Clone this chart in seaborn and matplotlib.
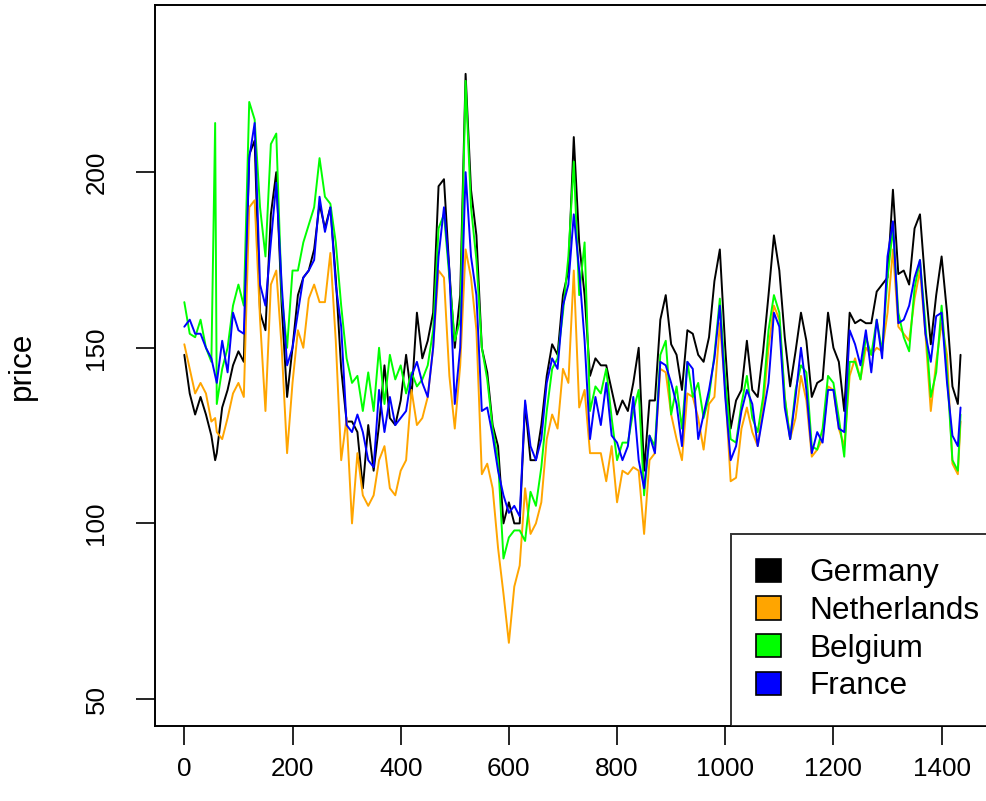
import matplotlib
matplotlib.use("Agg")
import matplotlib.pyplot as plt
from matplotlib.patches import Patch
import seaborn as sns
import pandas as pd

# ---- data ----
hours = [0, 10, 20, 30, 40, 50, 57] + list(range(60, 1440, 10)) + [1435]

germany = [148, 137, 131, 136, 131, 125, 118,
           120, 133, 138, 145, 149, 146, 205, 209, 160, 155,
           188, 200, 162, 136, 150, 165, 170, 172, 178, 191,
           184, 190, 170, 144, 129, 129, 126, 110, 128, 115,
           128, 145, 130, 128, 135, 148, 136, 160, 147, 152,
           160, 196, 198, 172, 150, 165, 228, 195, 182, 150,
           143, 128, 122, 100, 106, 100, 100, 134, 118, 118,
           128, 142, 151, 148, 165, 172, 210, 180, 165, 142,
           147, 145, 145, 138, 131, 135, 132, 140, 150, 115,
           135, 135, 158, 165, 151, 148, 138, 155, 154, 148,
           146, 153, 169, 178, 150, 127, 135, 138, 152, 138,
           136, 149, 165, 182, 172, 153, 139, 149, 160, 152,
           136, 140, 141, 160, 150, 146, 132, 160, 157, 158,
           157, 157, 166, 168, 170, 195, 171, 172, 168, 184,
           188, 168, 151, 165, 176, 160, 139, 134,
           148]

netherlands = [151, 144, 137, 140, 137, 129, 130,
               126, 124, 130, 137, 140, 136, 190, 192, 158, 132,
               168, 172, 150, 120, 140, 155, 150, 164, 168, 163,
               163, 177, 152, 118, 130, 100, 120, 108, 105, 108,
               118, 122, 110, 108, 115, 118, 138, 128, 130, 136,
               150, 172, 170, 142, 127, 145, 178, 170, 155, 114,
               117, 110, 93, 80, 66, 82, 88, 110, 97, 100,
               106, 124, 131, 127, 144, 140, 172, 133, 138, 120,
               120, 120, 112, 122, 106, 115, 114, 116, 115, 97,
               118, 120, 144, 143, 131, 124, 118, 137, 136, 130,
               121, 134, 136, 157, 138, 112, 113, 127, 133, 126,
               122, 133, 150, 162, 158, 136, 124, 130, 142, 135,
               119, 121, 124, 139, 138, 127, 122, 142, 147, 141,
               150, 148, 150, 149, 160, 178, 156, 154, 152, 164,
               172, 154, 132, 146, 157, 148, 117, 114,
               129]

belgium = [163, 154, 153, 158, 150, 146, 214,
           134, 144, 150, 162, 168, 162, 220, 215, 190, 176,
           208, 211, 165, 150, 172, 172, 180, 185, 190, 204,
           193, 191, 180, 162, 147, 140, 142, 132, 143, 132,
           150, 134, 148, 141, 145, 137, 143, 139, 141, 145,
           155, 184, 188, 170, 152, 158, 226, 190, 175, 150,
           141, 127, 118, 90, 96, 98, 98, 95, 109, 105,
           116, 132, 144, 147, 160, 176, 203, 165, 180, 132,
           139, 137, 144, 130, 118, 123, 123, 132, 138, 108,
           125, 122, 148, 152, 131, 139, 127, 146, 136, 140,
           130, 136, 148, 164, 141, 124, 123, 134, 142, 130,
           126, 136, 155, 165, 160, 136, 124, 138, 145, 143,
           122, 121, 127, 142, 140, 130, 119, 146, 146, 141,
           153, 148, 158, 149, 170, 184, 160, 153, 149, 167,
           175, 157, 136, 143, 162, 143, 118, 115,
           131]

france = [156, 158, 154, 154, 150, 147, 142,
          140, 152, 143, 160, 155, 154, 204, 214, 168, 162,
          180, 197, 168, 145, 150, 160, 170, 172, 175, 193,
          183, 190, 168, 156, 128, 126, 131, 126, 118, 116,
          138, 126, 136, 128, 130, 132, 142, 146, 140, 136,
          150, 176, 190, 172, 134, 150, 200, 176, 165, 132,
          133, 125, 115, 108, 103, 105, 102, 135, 122, 118,
          124, 140, 147, 144, 162, 168, 188, 172, 152, 124,
          136, 128, 140, 125, 123, 118, 122, 136, 118, 110,
          125, 120, 146, 145, 140, 134, 122, 146, 144, 124,
          131, 138, 147, 162, 136, 118, 122, 132, 138, 134,
          122, 131, 140, 160, 156, 133, 124, 136, 150, 138,
          120, 126, 123, 138, 138, 127, 126, 155, 151, 145,
          155, 143, 158, 147, 176, 186, 157, 158, 162, 170,
          175, 154, 146, 159, 160, 140, 125, 122,
          133]

countries = ["Germany", "Netherlands", "Belgium", "France"]
colors = ["black", "orange", "#00FF00", "#0000FF"]
x_ticks = [0, 200, 400, 600, 800, 1000, 1200, 1400]
y_ticks = [50, 100, 150, 200]

series = {"Germany": germany, "Netherlands": netherlands,
          "Belgium": belgium, "France": france}
frames = []
for name in countries:
    frames.append(pd.DataFrame({"hour": hours, "price": series[name], "country": name}))
df = pd.concat(frames, ignore_index=True)

# ---- style ----
sns.set_style("white")
plt.rcParams["font.family"] = ["Liberation Sans", "DejaVu Sans"]
plt.rcParams["text.color"] = "black"
plt.rcParams["axes.labelcolor"] = "black"

W, H = 987, 801
fig = plt.figure(figsize=(W / 100, H / 100), dpi=100)
left, right, top, bottom = 155, 993, 5, 725.7
ax = fig.add_axes([left / W, (H - bottom) / H, (right - left) / W, (bottom - top) / H])

sns.lineplot(data=df, x="hour", y="price", hue="country", hue_order=countries,
             palette=colors, estimator=None, sort=False, legend=False,
             linewidth=1.4, ax=ax)

ax.set_xlim(-54.2, 1495)
ax.set_ylim(42.4, 247.6)
ax.set_xticks(x_ticks)
ax.set_yticks(y_ticks)
ax.set_xlabel("")
ax.set_ylabel("price", fontsize=22.7, color="black")
ax.yaxis.set_label_coords((22 - left) / (right - left), 0.5)
ax.yaxis.label.set_va("center")

for s in ax.spines.values():
    s.set_visible(True)
    s.set_color("black")
    s.set_linewidth(1.4)

ax.tick_params(axis="both", direction="out", length=13.5, width=1.2,
               color="black", labelsize=18.7, labelcolor="black",
               bottom=True, left=True)
ax.tick_params(axis="x", pad=9)
ax.tick_params(axis="y", pad=20, labelrotation=90)
for lbl in ax.get_yticklabels():
    lbl.set_va("center")

handles = [Patch(facecolor=c, edgecolor="black", linewidth=1.2) for c in colors]
leg = ax.legend(handles, countries, loc="lower left",
                bbox_to_anchor=((731 - left) / (right - left), 0.0),
                fontsize=22.7, frameon=True, fancybox=False, borderaxespad=0,
                borderpad=0.78, handlelength=0.8, handleheight=0.75,
                handletextpad=0.9, labelspacing=0.24)
leg.get_frame().set_edgecolor("black")
leg.get_frame().set_linewidth(1.4)
for t in leg.get_texts():
    t.set_color("black")

fig.savefig("out.png", dpi=100)
